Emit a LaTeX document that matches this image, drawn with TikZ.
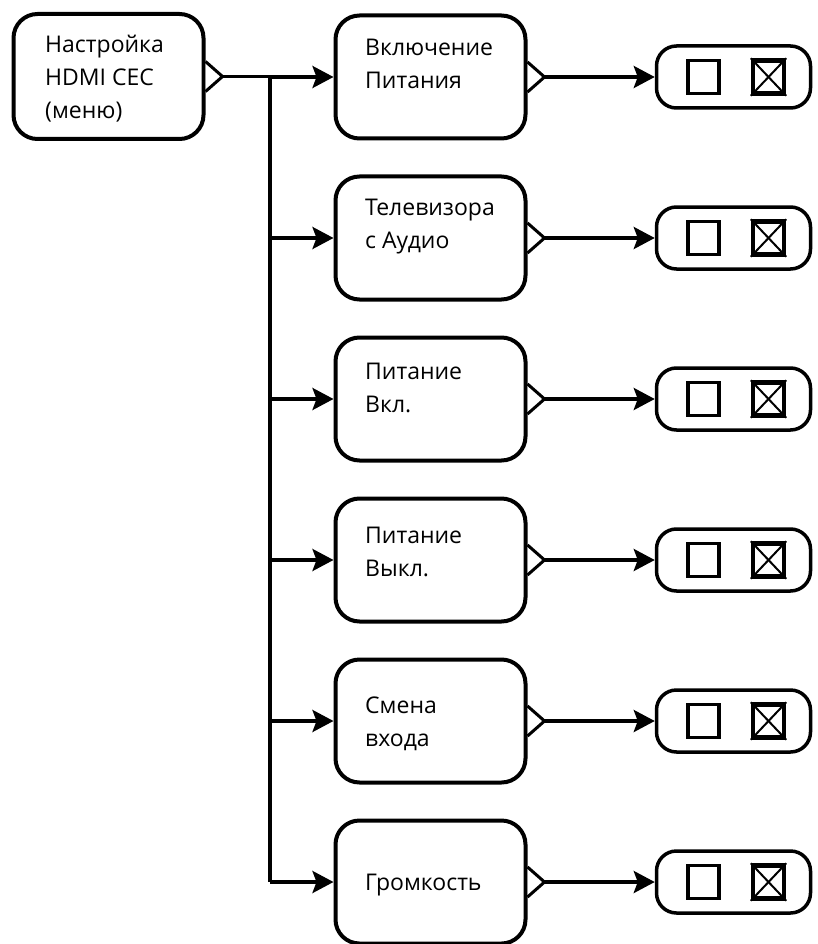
\documentclass[tikz,border=0pt]{standalone}
\usepackage{fontspec}
\setmainfont{Open Sans}
\usetikzlibrary{arrows.meta,calc}
\begin{document}
\begin{tikzpicture}[x=1pt,y=-1pt,
  menubox/.style={draw,line width=4pt,rounded corners=24pt,
    minimum width=190pt,minimum height=123pt,inner sep=0pt,fill=white},
  optbox/.style={draw,line width=3.5pt,rounded corners=20pt,
    minimum width=154pt,minimum height=62pt,inner sep=0pt},
  offbox/.style={draw,line width=3.5pt,minimum width=31pt,minimum height=33pt,inner sep=0pt},
  onbox/.style={draw,line width=4.5pt,minimum width=31pt,minimum height=33pt,inner sep=0pt},
  label/.style={anchor=west,align=left,inner sep=0pt,font=\fontsize{23}{33}\selectfont},
  notch/.style={draw,line width=3pt,fill=white,line join=miter},
  link/.style={line width=3.5pt},
  flow/.style={line width=3.5pt,-{Stealth[length=21pt,width=22pt,inset=4pt]}}
]
\useasboundingbox (0,0) rectangle (817,944);

% main menu box
\node[menubox,minimum height=125pt] (main) at (108.5,76.5) {};
\node[label] (tmain) at (45,78.5) {Настройка\\HDMI CEC\\(меню)};
\draw[notch] ($(main.east)+(0,-15)$) -- ($(main.east)+(17,0)$) coordinate (nmain)
  -- ($(main.east)+(0,15)$);

% vertical bus
\coordinate (bustop) at (270,0 |- nmain);

% rows: index / centre y / label y / label text
\foreach \i/\y/\ty/\txt in {
  1/77/64/{Включение\\Питания},
  2/238/226.5/{Телевизора\\с Аудио},
  3/399/388/{Питание\\Вкл.},
  4/560/551.5/{Питание\\Выкл.},
  5/721/723.5/{Смена\\входа},
  6/882/885/{Громкость}}{
  \node[menubox] (s\i) at (430.5,\y) {};
  \node[label] (t\i) at (365,\ty) {\txt};
  \draw[notch] ($(s\i.east)+(0,-15)$) -- ($(s\i.east)+(17,0)$) coordinate (n\i)
    -- ($(s\i.east)+(0,15)$);
  \node[optbox] (c\i) at (733.5,\y) {};
  \node[offbox] (c\i a) at (703.5,\y) {};
  \node[onbox] (c\i b) at (768.5,\y) {};
  \draw[line width=2pt] (c\i b.north west) -- (c\i b.south east)
    (c\i b.north east) -- (c\i b.south west);
  \draw[flow] (n\i) -- (c\i);
  \coordinate (b\i) at (270,\y);
  \draw[flow] (b\i) -- (s\i);
}

\draw[link] (nmain) -- (bustop);
\draw[link] (bustop) -- (b6);
\end{tikzpicture}
\end{document}
